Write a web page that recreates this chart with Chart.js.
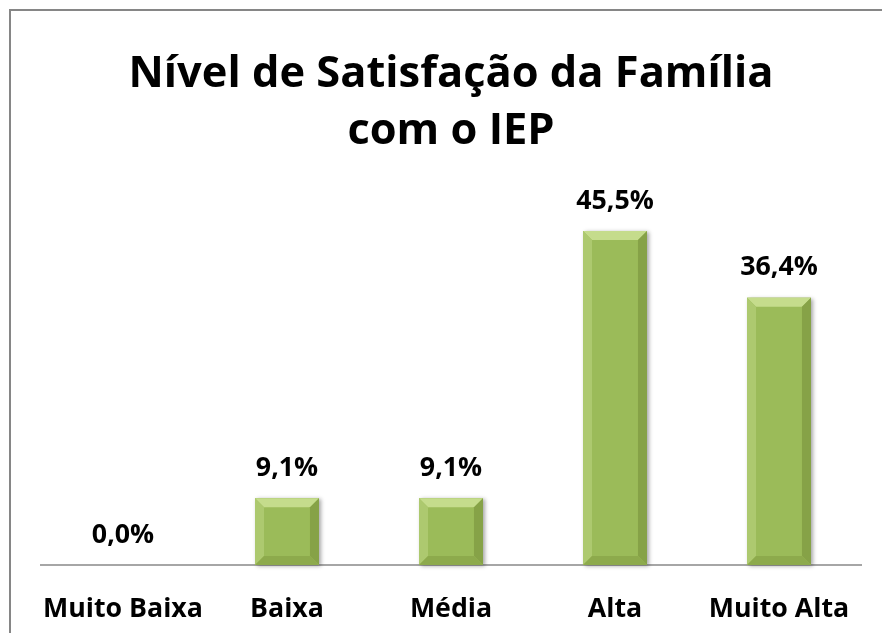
<!DOCTYPE html>
<html>
<head>
<meta charset="utf-8">
<script src="https://cdn.jsdelivr.net/npm/chart.js@4.4.1/dist/chart.umd.min.js"></script>
<style>
  html, body { margin: 0; padding: 0; background: #fff; }
  canvas { display: block; }
</style>
</head>
<body>
<canvas id="c" width="882" height="633"></canvas>
<script>
const categories = ['Muito Baixa', 'Baixa', 'Média', 'Alta', 'Muito Alta'];
const values = [0.0, 9.1, 9.1, 45.5, 36.4];
const titleLines = ['Nível de Satisfação da Família', 'com o IEP'];
const yMax = 50;

const FAMILY = "'Open Sans', 'Noto Sans', 'DejaVu Sans', sans-serif";
function fitSize(text, target) {
  const cv = document.createElement('canvas').getContext('2d');
  cv.font = 'bold 40px ' + FAMILY;
  return 40 * target / cv.measureText(text).width;
}
const titleSize = fitSize(titleLines[0], 645);
const labelSize = fitSize('Muito Baixa', 160);

function fmt(v) { return v.toFixed(1).replace('.', ',') + '%'; }

const frame = {
  id: 'frame',
  beforeDraw(chart) {
    const ctx = chart.ctx;
    ctx.save();
    ctx.fillStyle = '#fff';
    ctx.fillRect(0, 0, chart.width, chart.height);
    ctx.strokeStyle = '#868686';
    ctx.lineWidth = 2;
    ctx.beginPath();
    ctx.moveTo(10, chart.height);
    ctx.lineTo(10, 10);
    ctx.lineTo(chart.width, 10);
    ctx.stroke();
    ctx.restore();
  }
};

const bevel = {
  id: 'bevel',
  beforeDatasetsDraw(chart) {
    const ctx = chart.ctx;
    chart.getDatasetMeta(0).data.forEach(bar => {
      const h = bar.base - bar.y;
      if (h < 1) return;
      const l = bar.x - bar.width / 2;
      ctx.save();
      ctx.shadowColor = 'rgba(0,0,0,0.35)';
      ctx.shadowBlur = 4;
      ctx.shadowOffsetX = 2;
      ctx.shadowOffsetY = 1;
      ctx.fillStyle = '#9BBB59';
      ctx.fillRect(l, bar.y, bar.width, h);
      ctx.restore();
    });
  },
  afterDatasetsDraw(chart) {
    const ctx = chart.ctx;
    const meta = chart.getDatasetMeta(0);
    meta.data.forEach((bar, i) => {
      const h = bar.base - bar.y;
      const l = bar.x - bar.width / 2, r = bar.x + bar.width / 2;
      const t = bar.y, b = bar.base;
      if (h >= 1) {
        const s = Math.min(9, h / 2, bar.width / 2);
        const poly = (pts, col) => {
          ctx.beginPath();
          ctx.moveTo(pts[0][0], pts[0][1]);
          for (let k = 1; k < pts.length; k++) ctx.lineTo(pts[k][0], pts[k][1]);
          ctx.closePath();
          ctx.fillStyle = col;
          ctx.fill();
        };
        ctx.save();
        poly([[l, t], [r, t], [r - s, t + s], [l + s, t + s]], '#C5DC8C');
        poly([[l, t], [l + s, t + s], [l + s, b - s], [l, b]], '#ADC96F');
        poly([[r, t], [r, b], [r - s, b - s], [r - s, t + s]], '#86A247');
        poly([[l, b], [l + s, b - s], [r - s, b - s], [r, b]], '#8DAA4C');
        ctx.restore();
      }
      ctx.save();
      ctx.font = 'bold ' + labelSize + 'px ' + FAMILY;
      ctx.fillStyle = '#000';
      ctx.textAlign = 'center';
      ctx.textBaseline = 'middle';
      ctx.fillText(fmt(values[i]), bar.x, t - 30);
      ctx.restore();
    });
  }
};

new Chart(document.getElementById('c'), {
  type: 'bar',
  data: {
    labels: categories,
    datasets: [{
      data: values,
      backgroundColor: '#9BBB59',
      borderWidth: 0,
      categoryPercentage: 1,
      barPercentage: 0.39
    }]
  },
  options: {
    responsive: false,
    animation: false,
    devicePixelRatio: 1,
    layout: { padding: { left: 41, right: 21, top: 0, bottom: 0 } },
    plugins: {
      legend: { display: false },
      tooltip: { enabled: false },
      title: {
        display: true,
        text: titleLines,
        color: '#000',
        font: { family: FAMILY, size: titleSize, weight: 'bold', lineHeight: 57 / titleSize },
        padding: { top: 46, bottom: 38 }
      }
    },
    scales: {
      x: {
        grid: { display: false, drawTicks: false },
        border: { display: true, color: '#A6A6A6', width: 2 },
        ticks: { color: '#000', font: { family: FAMILY, size: labelSize, weight: 'bold' }, padding: 28, maxRotation: 0 },
        afterFit(s) { s.height = 68; }
      },
      y: { display: false, min: 0, max: yMax }
    }
  },
  plugins: [frame, bevel]
});
</script>
</body>
</html>
